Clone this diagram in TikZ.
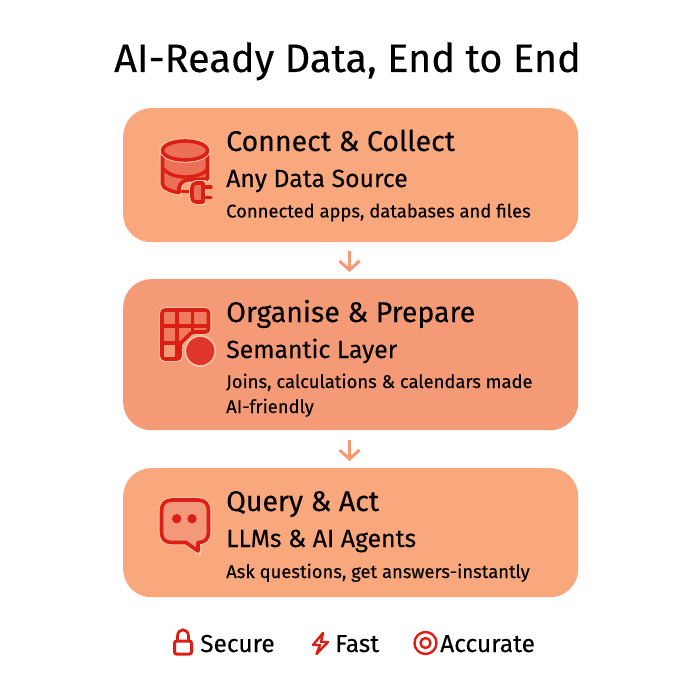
\documentclass[tikz,border=0pt]{standalone}
\usepackage{fontspec}
\setmainfont{Fira Sans}[FakeBold=0.25]
\usetikzlibrary{arrows.meta}
\definecolor{cardA}{HTML}{F9A77D}
\definecolor{cardB}{HTML}{F59A76}
\definecolor{icon}{HTML}{DC1F14}
\definecolor{iconfill}{HTML}{EC6F58}
\definecolor{arrowc}{HTML}{F59A72}
\definecolor{pale}{HTML}{FBC6A8}
\tikzset{
 x=1pt,y=-1pt,
 card/.style={draw=none,rounded corners=28pt,minimum width=455pt,anchor=north west,inner sep=0pt},
 head/.style={anchor=base west,inner sep=0pt,font=\fontsize{28.5}{28.5}\selectfont},
 sub/.style={anchor=base west,inner sep=0pt,font=\fontsize{24.8}{24.8}\selectfont},
 body/.style={anchor=base west,inner sep=0pt,font=\fontsize{18.4}{18.4}\selectfont},
 foot/.style={anchor=base west,inner sep=0pt,font=\fontsize{24.5}{24.5}\selectfont},
 flow/.style={draw=arrowc,line width=3pt,-{Straight Barb[length=9pt,width=20pt,line width=3pt]}},
 ic/.style={draw=icon,line width=3.6pt,line join=round,line cap=round,preaction={draw=pale,line width=5.6pt}},
 icl/.style={draw=icon,line width=3.4pt,line cap=round},
 icf/.style={draw=icon,line width=2.4pt,line join=round,line cap=round},
}
\begin{document}
\begin{tikzpicture}
\useasboundingbox[fill=white] (0,0) rectangle (700,700);
\node[anchor=base,inner sep=0pt,font=\fontsize{39.7}{39.7}\selectfont] (title) at (347.5,72) {AI-Ready Data, End to End};

\node[card,fill=cardA,minimum height=134pt] (c1) at (123,108) {};
\node[card,fill=cardB,minimum height=151pt] (c2) at (123,279) {};
\node[card,fill=cardA,minimum height=129pt] (c3) at (123,468) {};

\coordinate (a1) at (349.5,242);
\coordinate (a2) at (349.5,279);
\coordinate (a3) at (349.5,430);
\coordinate (a4) at (349.5,468);
\draw[flow,shorten <=9pt,shorten >=7pt] (a1) -- (a2);
\draw[flow,shorten <=10pt,shorten >=7pt] (a3) -- (a4);

\node[head] (h1) at (226,151) {Connect \& Collect};
\node[sub] (s1) at (226,187) {Any Data Source};
\node[body] (b1) at (226,217.5) {Connected apps, databases and files};

\node[head] (h2) at (226,322) {Organise \& Prepare};
\node[sub] (s2) at (226,358) {Semantic Layer};
\node[body] (b2) at (226,388) {Joins, calculations \& calendars made};
\node[body] (b2b) at (226,413) {AI-friendly};

\node[head] (h3) at (226,511) {Query \& Act};
\node[sub] (s3) at (226,547) {LLMs \& AI Agents};
\node[body] (b3) at (226,578) {Ask questions, get answers-instantly};

% database icon
\path[ic,fill=iconfill] (162.5,150) -- (162.5,184) .. controls (162.5,188) and (172,192) .. (179,192.5)
  .. controls (178,186) and (181,181) .. (187,180) -- (207.5,179) -- (207.5,150) -- cycle;
\draw[icl] (162.5,168) .. controls (168,175) and (178,177) .. (185,177) .. controls (194,177) and (203,175) .. (207.5,169);
\draw[ic,fill=iconfill] (185,150.5) ellipse [x radius=22.5pt,y radius=9.5pt];
\draw[icl,line width=3.6pt] (182,191.5) -- (192,191.5);
\draw[ic,fill=iconfill] (203,183) -- (196,183) .. controls (193,183) and (192,186) .. (192,188) -- (192,197) .. controls (192,200) and (193,202) .. (196,202) -- (203,202) -- cycle;
\draw[icl] (204,187) -- (211,187) (204,197.5) -- (211,197.5);

% table icon
\path[ic,fill=iconfill!70!cardB,rounded corners=3pt] (180,359) -- (162,359) -- (162,310) -- (208.5,310) -- (208.5,332) -- (192,332) -- (180,344) -- cycle;
\draw[icl,line cap=butt] (162,326) -- (208,326) (162,343) -- (181,343) (177,310) -- (177,359) (192.5,310) -- (192.5,332);
\fill[cardB] (163.8,344.8) rectangle (175.2,357.2);
\draw[draw=pale,line width=1.6pt,fill=icon!90!white] (200.3,351) circle[radius=15pt];

% chat icon
\path[ic,fill=cardB!70!iconfill!90!white] (172,500) -- (198,500) .. controls (205,500) and (208.5,504) .. (208.5,511) -- (208.5,532) .. controls (208.5,539) and (205,542.5) .. (198,542.5) -- (198,551) -- (186,542.5) -- (172,542.5) .. controls (165,542.5) and (161.5,539) .. (161.5,532) -- (161.5,511) .. controls (161.5,504) and (165,500) .. (172,500) -- cycle;
\fill[icon] (176.7,518.7) circle[radius=4.7pt] (192,518.7) circle[radius=4.7pt];

% footer
\draw[icf,line width=3pt,rounded corners=2pt] (174.5,641) rectangle (191.5,654);
\draw[icf,line width=2.8pt] (177.5,641) -- (177.5,636.5) .. controls (177.5,627.5) and (188.5,627.5) .. (188.5,636.5) -- (188.5,641);
\node[foot] (f1) at (200,652) {Secure};
\draw[icf] (323,633) -- (313,645) -- (320,645) -- (316.5,654) -- (328,642) -- (321,642) -- cycle;
\node[foot] (f2) at (335,652) {Fast};
\draw[icf] (425.5,643) circle[radius=11pt] (425.5,643) circle[radius=5pt];
\node[foot] (f3) at (440,652) {Accurate};
\end{tikzpicture}
\end{document}
